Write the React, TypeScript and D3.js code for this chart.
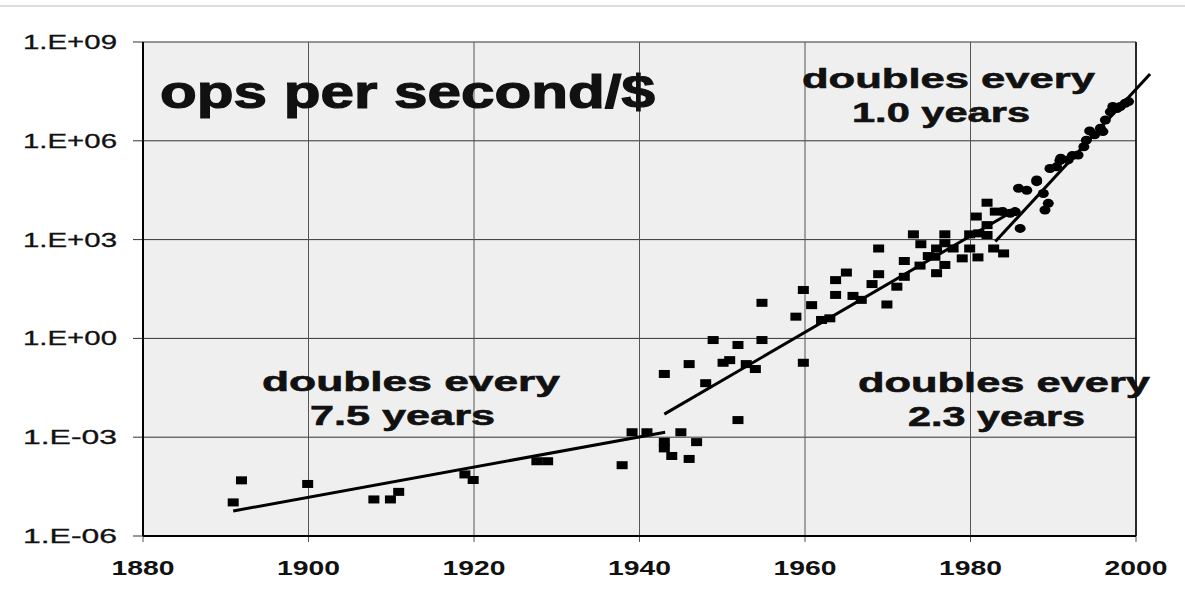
import React from "react";
import * as d3 from "d3";

// ---- data (as log10 exponents) ----
const squareYears = [1890.9, 1891.9, 1899.9, 1907.9, 1909.9, 1910.9, 1918.9, 1919.9, 1927.6, 1928.9,
  1937.9, 1939.1, 1940.9, 1943.0, 1943.0, 1943.9, 1945.0, 1946.0, 1946.9, 1943.0, 1946.0, 1948.0,
  1948.9, 1950.1, 1950.9, 1951.9, 1951.9, 1952.9, 1954.0, 1954.8, 1954.8, 1958.9, 1959.8, 1959.8,
  1960.8, 1962.0, 1963.0, 1963.7, 1963.7, 1965.0, 1965.8, 1966.8, 1968.1, 1968.9, 1968.9, 1969.9,
  1971.1, 1972.0, 1972.0, 1973.1, 1974.0, 1973.9, 1974.9, 1975.7, 1975.9, 1975.9, 1976.9, 1976.9,
  1976.9, 1977.9, 1979.0, 1979.9, 1979.9, 1980.7, 1980.9, 1981.0, 1982.0, 1982.0, 1982.0, 1982.8,
  1983.0, 1984.0];
const squareExps = [-4.98, -4.31, -4.42, -4.89, -4.89, -4.66, -4.13, -4.30, -3.73, -3.73,
  -3.85, -2.85, -2.85, -3.14, -3.34, -3.57, -2.85, -3.66, -3.15, -1.08, -0.78, -1.36,
  -0.05, -0.74, -0.66, -0.20, -2.48, -0.78, -0.93, 1.08, -0.05, 0.66, 1.47, -0.74,
  1.01, 0.56, 0.61, 1.77, 1.32, 2.0, 1.29, 1.17, 1.65, 1.95, 2.73, 1.03,
  1.57, 1.87, 2.35, 3.16, 2.86, 2.21, 2.50, 2.48, 2.73, 1.98, 3.16, 2.89,
  2.23, 2.73, 2.43, 2.73, 3.16, 3.70, 2.46, 3.19, 4.12, 3.44, 3.14, 2.73,
  3.85, 2.58];

const dotYears = [1983.9, 1984.8, 1985.4, 1985.8, 1986.0, 1986.8, 1988.0, 1988.0, 1988.8, 1989.0,
  1989.4, 1989.6, 1990.4, 1990.8, 1990.9, 1991.8, 1992.3, 1993.0, 1993.7, 1994.0, 1994.4, 1995.0,
  1995.7, 1996.0, 1996.3, 1996.9, 1997.2, 1997.7, 1998.1, 1998.7, 1999.1];
const dotExps = [3.85, 3.80, 3.85, 4.56, 3.34, 4.50, 4.76, 4.81, 4.40, 3.90,
  4.10, 5.16, 5.21, 5.40, 5.47, 5.42, 5.55, 5.57, 5.82, 6.02, 6.30, 6.18,
  6.38, 6.28, 6.63, 6.88, 7.04, 6.98, 7.04, 7.14, 7.19];

// trend lines: [startYear, startExp, endYear, endExp]
const trend75 = [1890.9, -5.24, 1943.1, -2.85];
const trend23 = [1943.0, -2.30, 1985.6, 3.93];
const trend10 = [1983.0, 2.94, 2001.7, 8.03];

const yTickExps = [9, 6, 3, 0, -3, -6];
const yTickLabels = ["1.E+09", "1.E+06", "1.E+03", "1.E+00", "1.E-03", "1.E-06"];
const xTickYears = [1880, 1900, 1920, 1940, 1960, 1980, 2000];

const FONT = "'Liberation Sans', Arial, Helvetica, sans-serif";

export default function App() {
  const W = 1185, H = 592;
  const left = 143, right = 1136, top = 42, bottom = 536;
  const x = d3.scaleLinear().domain([1880, 2000]).range([left, right]);
  const y = d3.scaleLog().domain([1e-6, 1e9]).range([bottom, top]);
  const v = (e: number) => Math.pow(10, e);
  const line = d3.line<[number, number]>().x(d => x(d[0])).y(d => y(v(d[1])));
  const trendPath = (t: number[]) => line([[t[0], t[1]], [t[2], t[3]]]) as string;

  const labels = [
    { t: "doubles every", x: 802, y: 88, w: 293 },
    { t: "1.0 years", x: 852, y: 122, w: 178 },
    { t: "doubles every", x: 262, y: 391, w: 298 },
    { t: "7.5 years", x: 310, y: 425, w: 185 },
    { t: "doubles every", x: 858, y: 392, w: 292 },
    { t: "2.3 years", x: 908, y: 426, w: 177 },
  ];

  return (
    <svg width={W} height={H} style={{ position: "absolute", left: 0, top: 0, background: "#fff" }}
      fontFamily={FONT}>
      <line x1={0} x2={W} y1={6} y2={6} stroke="#bbb" strokeWidth={1} />
      <rect x={left} y={top} width={right - left} height={bottom - top} fill="#efefef" />
      {/* gridlines */}
      {yTickExps.map(e => (
        <line key={"gy" + e} x1={left - 10} x2={right} y1={y(v(e))} y2={y(v(e))}
          stroke="#333" strokeWidth={1} />
      ))}
      {xTickYears.map(yr => (
        <line key={"gx" + yr} x1={x(yr)} x2={x(yr)} y1={top} y2={bottom + 6}
          stroke="#555" strokeWidth={1} />
      ))}
      {/* axes */}
      <line x1={left} x2={left} y1={top} y2={bottom} stroke="#000" strokeWidth={2} />
      <line x1={left} x2={right} y1={bottom} y2={bottom} stroke="#000" strokeWidth={2} />
      <line x1={right} x2={right} y1={top} y2={bottom} stroke="#000" strokeWidth={1.5} />
      {/* tick labels */}
      {yTickExps.map((e, i) => (
        <text key={"yl" + e} x={23} y={y(v(e)) + 7} fontSize={20} textLength={94}
          lengthAdjust="spacingAndGlyphs" fill="#111" stroke="#111" strokeWidth={0.3}>{yTickLabels[i]}</text>
      ))}
      {xTickYears.map(yr => (
        <text key={"xl" + yr} x={x(yr) - 31.5} y={575} fontSize={20} fontWeight="bold"
          textLength={63} lengthAdjust="spacingAndGlyphs" fill="#111">{yr}</text>
      ))}
      {/* title and annotations */}
      <text x={160} y={108} fontSize={46} fontWeight="bold" textLength={495}
        lengthAdjust="spacingAndGlyphs" fill="#111" stroke="#111" strokeWidth={1.2}>ops per second/$</text>
      {labels.map((l, i) => (
        <text key={"lab" + i} x={l.x} y={l.y} fontSize={28} fontWeight="bold" textLength={l.w}
          lengthAdjust="spacingAndGlyphs" fill="#111" stroke="#111" strokeWidth={0.6}>{l.t}</text>
      ))}
      {/* trend lines */}
      {[trend75, trend23, trend10].map((t, i) => (
        <path key={"tr" + i} d={trendPath(t)} stroke="#000" strokeWidth={3} fill="none" />
      ))}
      {/* markers */}
      {squareYears.map((yr, i) => (
        <rect key={"sq" + i} x={x(yr) - 5.5} y={y(v(squareExps[i])) - 4} width={11} height={8} fill="#000" />
      ))}
      {dotYears.map((yr, i) => (
        <ellipse key={"dt" + i} cx={x(yr)} cy={y(v(dotExps[i]))} rx={5.5} ry={4.5} fill="#000" />
      ))}
    </svg>
  );
}
